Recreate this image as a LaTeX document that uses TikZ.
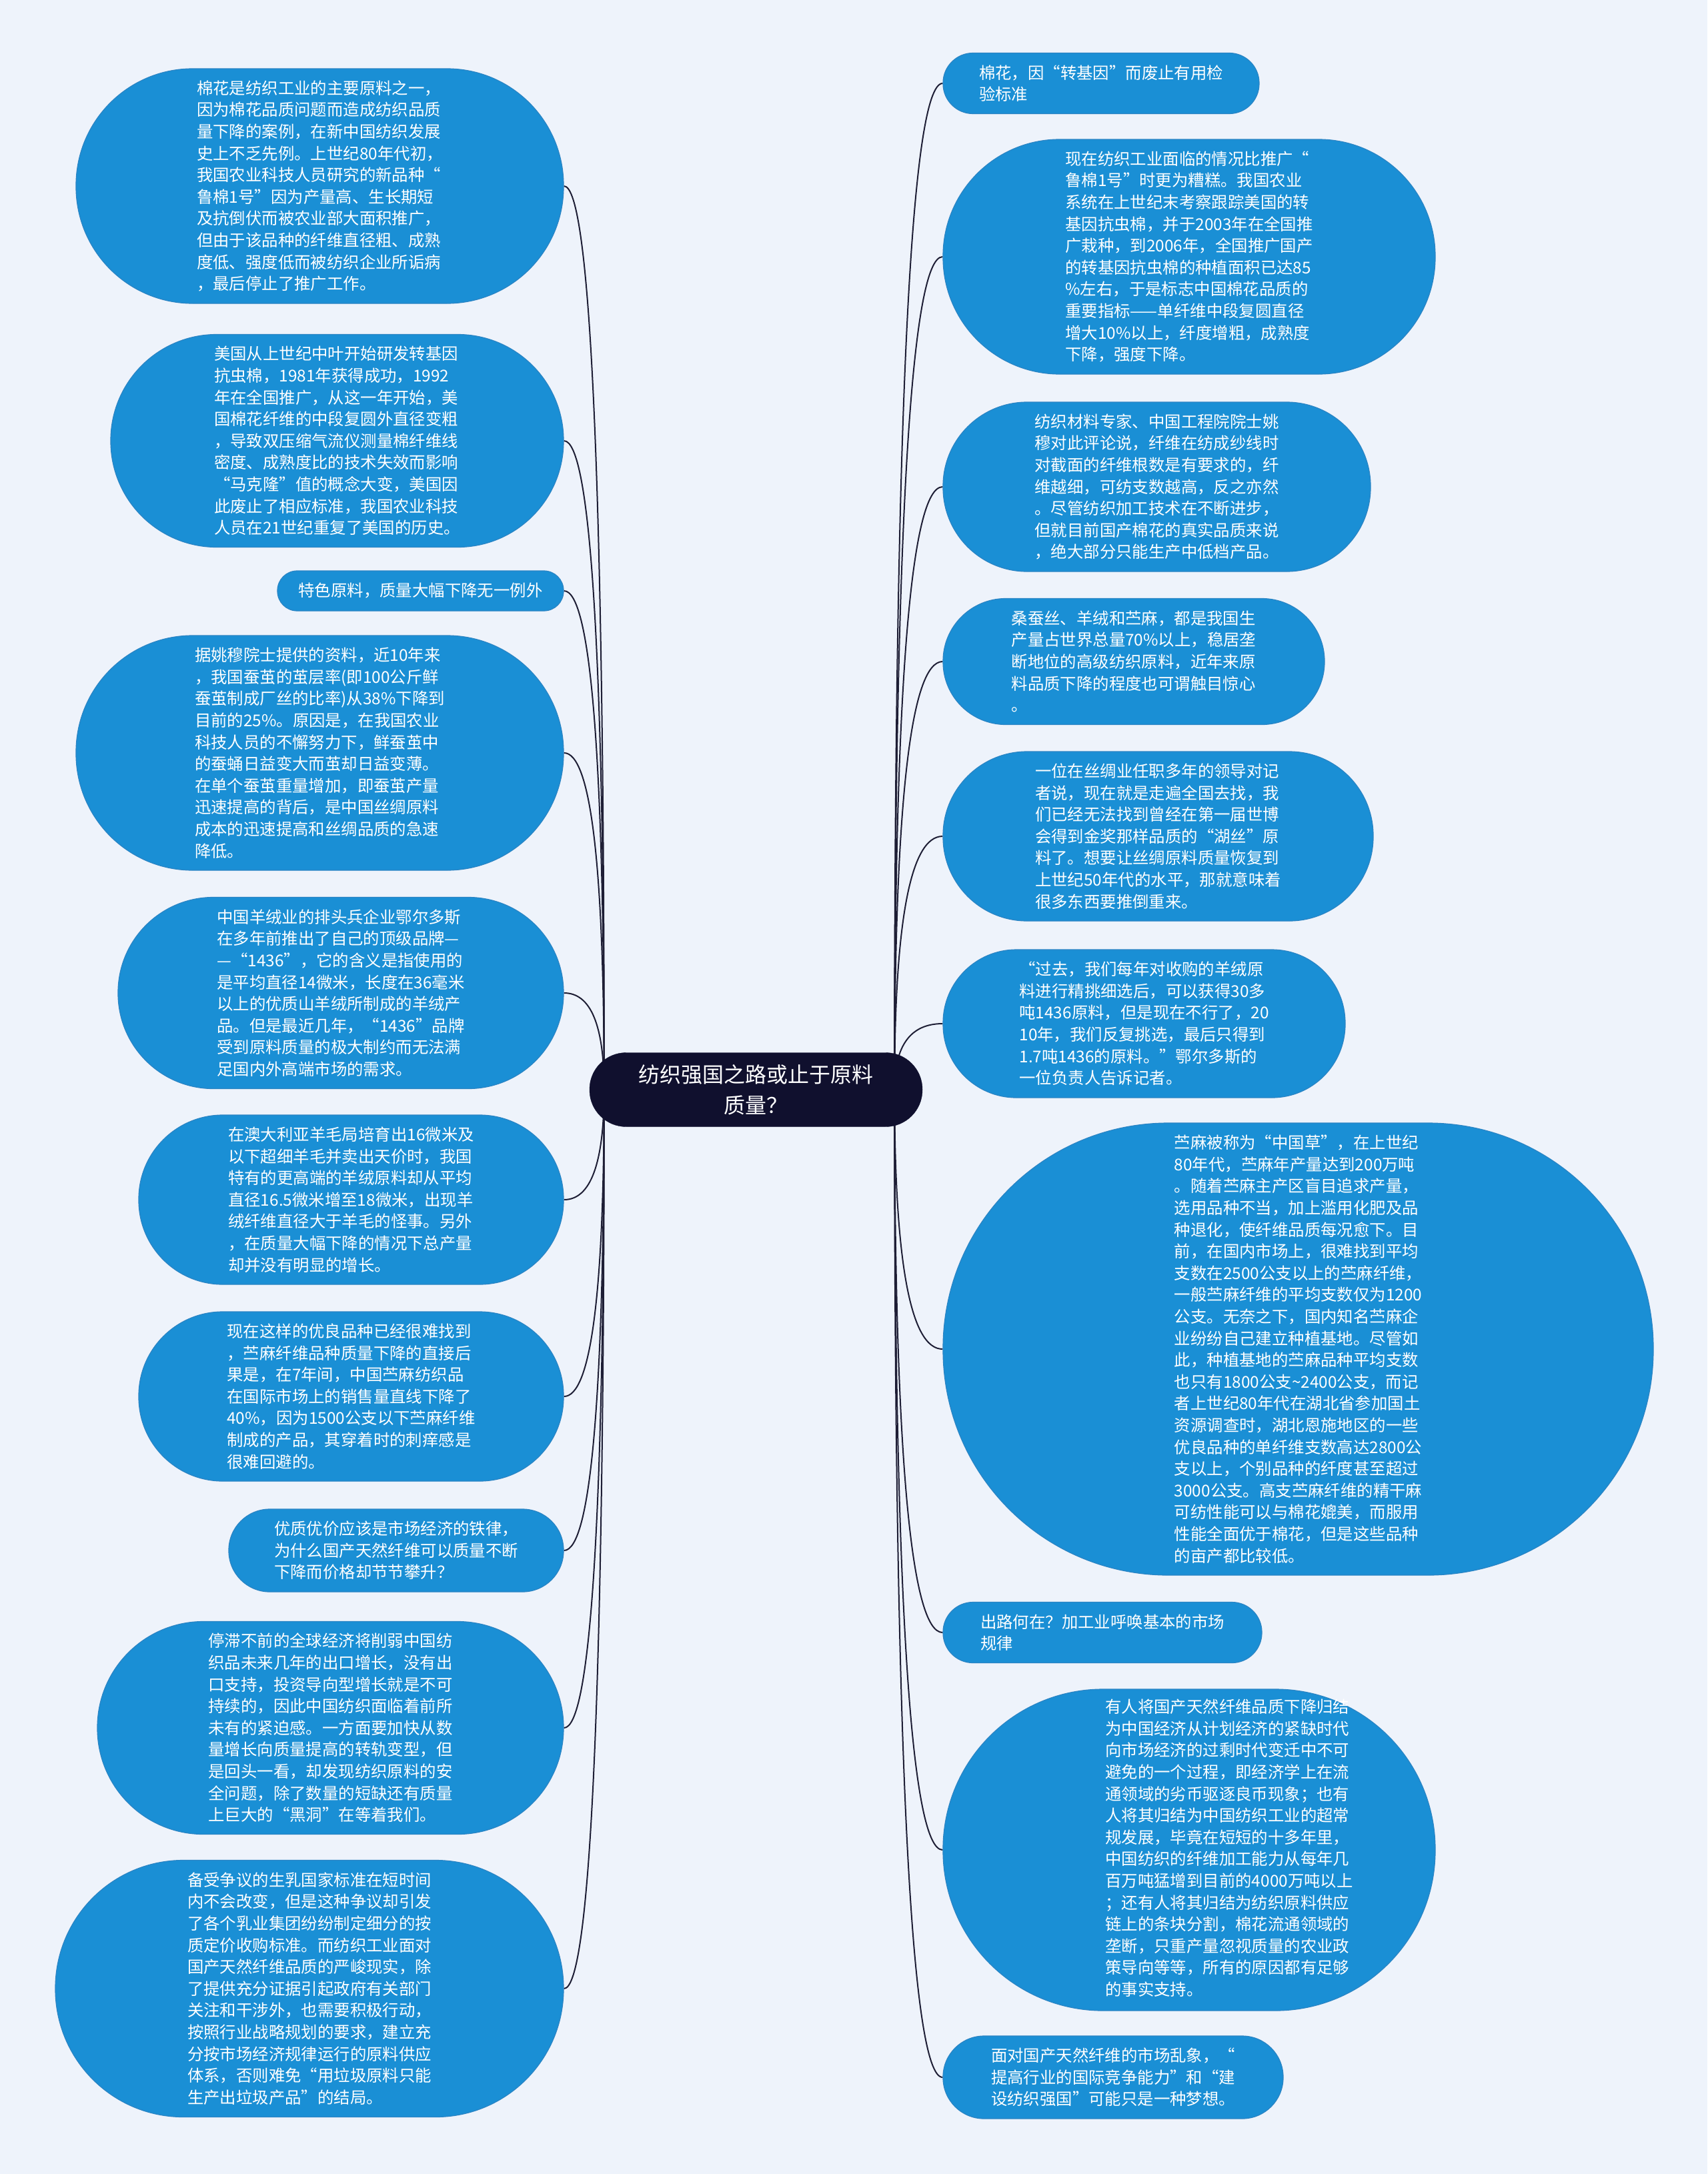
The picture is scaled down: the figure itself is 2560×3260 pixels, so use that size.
\documentclass[tikz,border=0pt]{standalone}
\usepackage{fontspec}
\setmainfont{Noto Sans CJK SC}
\usetikzlibrary{backgrounds,calc}
\definecolor{bg}{HTML}{EEF3FB}
\definecolor{nodeblue}{HTML}{1A8FD5}
\definecolor{nodeedge}{HTML}{2A84C4}
\definecolor{rootfill}{HTML}{10102E}
\definecolor{linecol}{HTML}{1E1E35}
\tikzset{
  leaf/.style={draw=nodeedge, line width=1.2pt, fill=nodeblue, text=white, align=left, inner sep=0pt,
    font=\fontsize{24.4}{32.6}\selectfont},
  rootbox/.style={fill=rootfill, draw=rootfill, text=white, align=center, inner sep=0pt,
    font=\fontsize{32}{46}\selectfont},
  conn/.style={draw=linecol, line width=2pt},
}
\begin{document}
\begin{tikzpicture}[x=1pt,y=-1pt]
\useasboundingbox (0,0) rectangle (2560,3260);

\node[rootbox, minimum width=499pt, minimum height=111pt, rounded corners=55pt] (root) at (1133.5,1634) {纺织强国之路或止于原料\\质量？};
\coordinate (rl) at ([xshift=22pt]root.west);
\coordinate (rr) at ([xshift=-42pt]root.east);

% left nodes
\node[leaf, minimum width=731pt, minimum height=352pt, rounded corners=175pt] (L1) at (479.5,279) {棉花是纺织工业的主要原料之一，\\因为棉花品质问题而造成纺织品质\\量下降的案例，在新中国纺织发展\\史上不乏先例。上世纪80年代初，\\我国农业科技人员研究的新品种“\\鲁棉1号”因为产量高、生长期短\\及抗倒伏而被农业部大面积推广，\\但由于该品种的纤维直径粗、成熟\\度低、强度低而被纺织企业所诟病\\，最后停止了推广工作。};
\node[leaf, minimum width=679pt, minimum height=319pt, rounded corners=159pt] (L2) at (505.5,661) {美国从上世纪中叶开始研发转基因\\抗虫棉，1981年获得成功，1992\\年在全国推广，从这一年开始，美\\国棉花纤维的中段复圆外直径变粗\\，导致双压缩气流仪测量棉纤维线\\密度、成熟度比的技术失效而影响\\“马克隆”值的概念大变，美国因\\此废止了相应标准，我国农业科技\\人员在21世纪重复了美国的历史。};
\node[leaf, minimum width=429pt, minimum height=60pt, rounded corners=29.5pt] (L3) at (630.5,886) {特色原料，质量大幅下降无一例外};
\node[leaf, minimum width=731pt, minimum height=352pt, rounded corners=175pt] (L4) at (479.5,1129) {据姚穆院士提供的资料，近10年来\\，我国蚕茧的茧层率(即100公斤鲜\\蚕茧制成厂丝的比率)从38\%下降到\\目前的25\%。原因是，在我国农业\\科技人员的不懈努力下，鲜蚕茧中\\的蚕蛹日益变大而茧却日益变薄。\\在单个蚕茧重量增加，即蚕茧产量\\迅速提高的背后，是中国丝绸原料\\成本的迅速提高和丝绸品质的急速\\降低。};
\node[leaf, minimum width=668pt, minimum height=287pt, rounded corners=143pt] (L5) at (511,1489) {中国羊绒业的排头兵企业鄂尔多斯\\在多年前推出了自己的顶级品牌—\\—“1436”，它的含义是指使用的\\是平均直径14微米，长度在36毫米\\以上的优质山羊绒所制成的羊绒产\\品。但是最近几年，“1436”品牌\\受到原料质量的极大制约而无法满\\足国内外高端市场的需求。};
\node[leaf, minimum width=637pt, minimum height=254pt, rounded corners=126pt] (L6) at (526.5,1799) {在澳大利亚羊毛局培育出16微米及\\以下超细羊毛并卖出天价时，我国\\特有的更高端的羊绒原料却从平均\\直径16.5微米增至18微米，出现羊\\绒纤维直径大于羊毛的怪事。另外\\，在质量大幅下降的情况下总产量\\却并没有明显的增长。};
\node[leaf, minimum width=637pt, minimum height=254pt, rounded corners=126pt] (L7) at (526.5,2094) {现在这样的优良品种已经很难找到\\，苎麻纤维品种质量下降的直接后\\果是，在7年间，中国苎麻纺织品\\在国际市场上的销售量直线下降了\\40\%，因为1500公支以下苎麻纤维\\制成的产品，其穿着时的刺痒感是\\很难回避的。};
\node[leaf, minimum width=502pt, minimum height=124pt, rounded corners=61.5pt] (L8) at (594,2325) {优质优价应该是市场经济的铁律，\\为什么国产天然纤维可以质量不断\\下降而价格却节节攀升？};
\node[leaf, minimum width=699pt, minimum height=319pt, rounded corners=159pt] (L9) at (495.5,2591) {停滞不前的全球经济将削弱中国纺\\织品未来几年的出口增长，没有出\\口支持，投资导向型增长就是不可\\持续的，因此中国纺织面临着前所\\未有的紧迫感。一方面要加快从数\\量增长向质量提高的转轨变型，但\\是回头一看，却发现纺织原料的安\\全问题，除了数量的短缺还有质量\\上巨大的“黑洞”在等着我们。};
\node[leaf, minimum width=762pt, minimum height=385pt, rounded corners=192pt] (L10) at (464,2982) {备受争议的生乳国家标准在短时间\\内不会改变，但是这种争议却引发\\了各个乳业集团纷纷制定细分的按\\质定价收购标准。而纺织工业面对\\国产天然纤维品质的严峻现实，除\\了提供充分证据引起政府有关部门\\关注和干涉外，也需要积极行动，\\按照行业战略规划的要求，建立充\\分按市场经济规律运行的原料供应\\体系，否则难免“用垃圾原料只能\\生产出垃圾产品”的结局。};

% right nodes
\node[leaf, minimum width=474pt, minimum height=91pt, rounded corners=45pt] (R1) at (1651,125) {棉花，因“转基因”而废止有用检\\验标准};
\node[leaf, minimum width=738pt, minimum height=352pt, rounded corners=175pt] (R2) at (1783,385) {现在纺织工业面临的情况比推广“\\鲁棉1号”时更为糟糕。我国农业\\系统在上世纪末考察跟踪美国的转\\基因抗虫棉，并于2003年在全国推\\广栽种，到2006年，全国推广国产\\的转基因抗虫棉的种植面积已达85\\\%左右，于是标志中国棉花品质的\\重要指标——单纤维中段复圆直径\\增大10\%以上，纤度增粗，成熟度\\下降，强度下降。};
\node[leaf, minimum width=641pt, minimum height=254pt, rounded corners=126pt] (R3) at (1734.5,730) {纺织材料专家、中国工程院院士姚\\穆对此评论说，纤维在纺成纱线时\\对截面的纤维根数是有要求的，纤\\维越细，可纺支数越高，反之亦然\\。尽管纺织加工技术在不断进步，\\但就目前国产棉花的真实品质来说\\，绝大部分只能生产中低档产品。};
\node[leaf, minimum width=572pt, minimum height=189pt, rounded corners=94pt] (R4) at (1700,992) {桑蚕丝、羊绒和苎麻，都是我国生\\产量占世界总量70\%以上，稳居垄\\断地位的高级纺织原料，近年来原\\料品质下降的程度也可谓触目惊心\\。};
\node[leaf, minimum width=645pt, minimum height=254pt, rounded corners=126pt] (R5) at (1736.5,1254) {一位在丝绸业任职多年的领导对记\\者说，现在就是走遍全国去找，我\\们已经无法找到曾经在第一届世博\\会得到金奖那样品质的“湖丝”原\\料了。想要让丝绸原料质量恢复到\\上世纪50年代的水平，那就意味着\\很多东西要推倒重来。};
\node[leaf, minimum width=603pt, minimum height=222pt, rounded corners=110pt] (R6) at (1715.5,1535) {“过去，我们每年对收购的羊绒原\\料进行精挑细选后，可以获得30多\\吨1436原料，但是现在不行了，20\\10年，我们反复挑选，最后只得到\\1.7吨1436的原料。”鄂尔多斯的\\一位负责人告诉记者。};
\node[leaf, minimum width=1065pt, minimum height=678pt, rounded corners=338pt] (R7) at (1946.5,2023) {苎麻被称为“中国草”，在上世纪\\80年代，苎麻年产量达到200万吨\\。随着苎麻主产区盲目追求产量，\\选用品种不当，加上滥用化肥及品\\种退化，使纤维品质每况愈下。目\\前，在国内市场上，很难找到平均\\支数在2500公支以上的苎麻纤维，\\一般苎麻纤维的平均支数仅为1200\\公支。无奈之下，国内知名苎麻企\\业纷纷自己建立种植基地。尽管如\\此，种植基地的苎麻品种平均支数\\也只有1800公支\textasciitilde 2400公支，而记\\者上世纪80年代在湖北省参加国土\\资源调查时，湖北恩施地区的一些\\优良品种的单纤维支数高达2800公\\支以上，个别品种的纤度甚至超过\\3000公支。高支苎麻纤维的精干麻\\可纺性能可以与棉花媲美，而服用\\性能全面优于棉花，但是这些品种\\的亩产都比较低。};
\node[leaf, minimum width=478pt, minimum height=91pt, rounded corners=45pt] (R8) at (1653,2448) {出路何在？加工业呼唤基本的市场\\规律};
\node[leaf, align=center, minimum width=738pt, minimum height=482pt, rounded corners=240pt] (R9) at (1783,2774) {\hspace*{120pt}\begin{tabular}{@{}l@{}}有人将国产天然纤维品质下降归结\\为中国经济从计划经济的紧缺时代\\向市场经济的过剩时代变迁中不可\\避免的一个过程，即经济学上在流\\通领域的劣币驱逐良币现象；也有\\人将其归结为中国纺织工业的超常\\规发展，毕竟在短短的十多年里，\\中国纺织的纤维加工能力从每年几\\百万吨猛增到目前的4000万吨以上\\；还有人将其归结为纺织原料供应\\链上的条块分割，棉花流通领域的\\垄断，只重产量忽视质量的农业政\\策导向等等，所有的原因都有足够\\的事实支持。\end{tabular}};
\node[leaf, minimum width=510pt, minimum height=124pt, rounded corners=61.5pt] (R10) at (1669,3115) {面对国产天然纤维的市场乱象，“\\提高行业的国际竞争能力”和“建\\设纺织强国”可能只是一种梦想。};

\begin{pgfonlayer}{background}
\fill[bg] (0,0) rectangle (2560,3260);
\foreach \n in {L1,L2,L3,L4,L5,L6,L7,L8,L9,L10}
  \draw[conn] (\n.east) .. controls ($(\n.east)!0.667!(rl |- \n.east)$) and ($(rl)!0.667!(rl |- \n.east)$) .. (rl);
\foreach \n in {R1,R2,R3,R4,R5,R6,R7,R8,R9,R10}
  \draw[conn] (rr) .. controls ($(rr)!0.667!(rr |- \n.west)$) and ($(\n.west)!0.667!(rr |- \n.west)$) .. (\n.west);
\end{pgfonlayer}
\end{tikzpicture}
\end{document}
